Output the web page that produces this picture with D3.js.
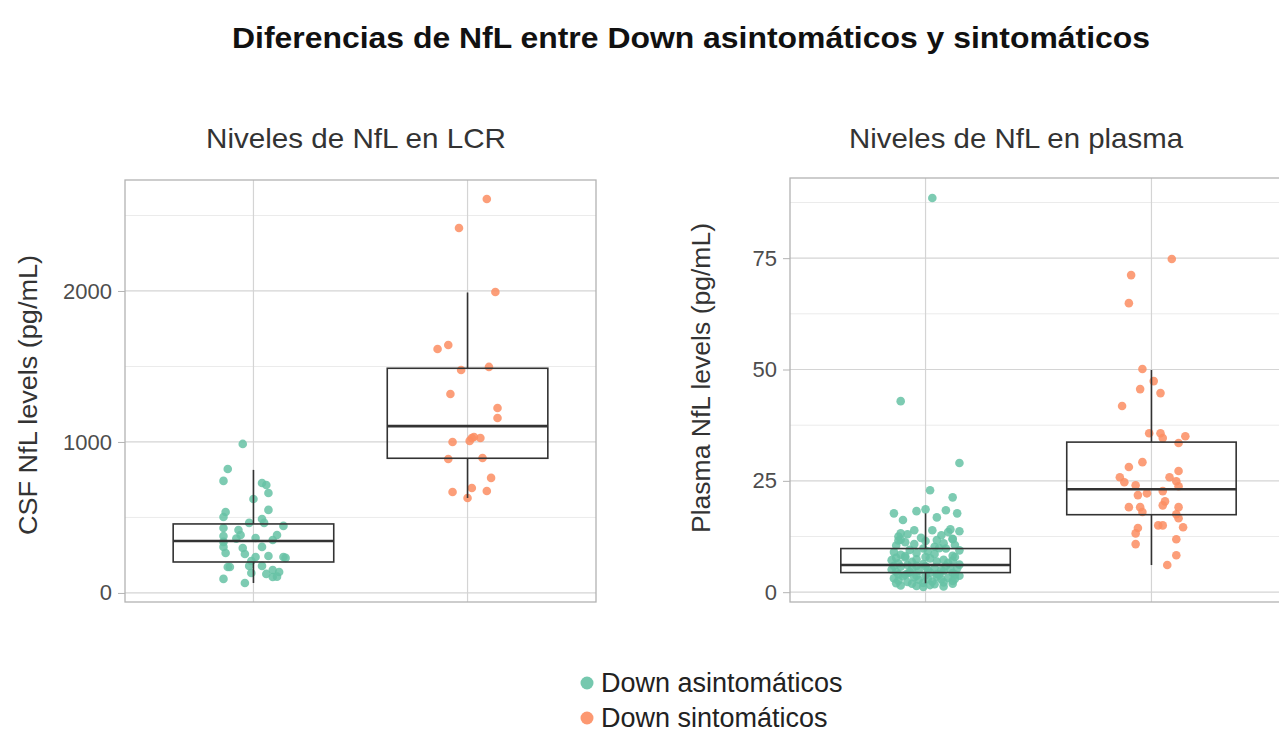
<!DOCTYPE html>
<html>
<head>
<meta charset="utf-8">
<script src="https://cdn.jsdelivr.net/npm/d3@7"></script>
<style>
  body { margin: 0; background: #fff; }
  svg text { font-family: "Liberation Sans", Arial, sans-serif; }
</style>
</head>
<body>
<div class="graph"></div>
<script>
// categories
const groups = ["Down asintomáticos", "Down sintomáticos"];
const groupColours = ["#66c2a5", "#fc8d62"];

// CSF panel: [jitter (category units), value]
const csfAsint = [
  [-0.05, 987], [-0.12, 821], [-0.14, 742], [0.04, 728], [0.06, 715], [0.07, 662], [0.00, 622],
  [0.07, 550], [-0.13, 536], [-0.14, 503], [0.04, 490], [-0.02, 464], [0.14, 444], [0.05, 464],
  [-0.14, 430], [-0.07, 417], [-0.06, 384], [0.11, 384], [-0.14, 377], [0.01, 364], [0.09, 351],
  [-0.14, 305], [-0.05, 298], [0.04, 305], [-0.13, 265], [-0.04, 258], [0.07, 245], [0.01, 238],
  [0.14, 238], [0.15, 232], [-0.01, 212], [-0.12, 172], [-0.02, 179], [0.04, 179], [-0.11, 172],
  [0.09, 152], [0.12, 139], [0.06, 126], [-0.01, 132], [0.09, 106], [-0.14, 93], [-0.04, 66],
  [-0.14, 338], [-0.08, 360], [0.11, 108]
];
const csfSint = [
  [0.09, 2609], [-0.04, 2417], [0.13, 1993], [-0.14, 1616], [-0.09, 1642], [-0.03, 1477],
  [0.10, 1497], [-0.08, 1318], [0.14, 1225], [0.14, 1159], [-0.07, 1000], [0.02, 1026],
  [0.03, 1033], [0.06, 1026], [0.01, 1007], [-0.09, 887], [0.07, 894], [0.11, 762],
  [0.02, 695], [-0.07, 669], [0.09, 675], [0.00, 629]
];

// plasma panel: [jitter (category units), value]
const plasmaAsint = [
  [0.03, 88.5], [-0.11, 42.9], [0.15, 29.0], [0.02, 22.9], [0.12, 21.3], [-0.14, 17.7], [-0.04, 18.2],
  [0.00, 18.6], [0.09, 18.4], [0.14, 17.7], [-0.10, 16.2], [0.05, 16.8], [-0.05, 13.9], [0.11, 14.1],
  [0.15, 13.7], [0.03, 13.9], [-0.11, 13.2],
  [-0.12, 12.5], [-0.08, 13.0], [-0.02, 12.2], [0.07, 12.8], [0.12, 12.0], [0.10, 13.5], [-0.11, 11.8],
  [-0.13, 10.5], [-0.09, 11.2], [-0.05, 10.8], [0.00, 11.5], [0.04, 10.2], [0.08, 11.0], [0.13, 10.6],
  [-0.12, 11.6], [0.12, 11.9], [0.05, 11.7],
  [-0.14, 9.0], [-0.11, 8.4], [-0.07, 9.5], [-0.04, 8.8], [0.01, 9.2], [0.04, 8.6], [0.09, 9.8],
  [0.12, 8.2], [0.15, 9.4], [-0.01, 9.8], [0.06, 9.9], [-0.09, 8.1],
  [-0.15, 7.2], [-0.12, 6.5], [-0.09, 7.8], [-0.06, 6.8], [-0.04, 7.4], [-0.01, 6.3], [0.02, 7.6],
  [0.05, 6.9], [0.08, 7.3], [0.10, 6.6], [0.13, 7.9], [0.15, 6.2], [-0.13, 7.7], [-0.08, 6.1],
  [0.00, 7.9], [0.12, 7.1],
  [-0.15, 5.1], [-0.13, 4.6], [-0.11, 5.7], [-0.08, 4.2], [-0.06, 5.3], [-0.03, 4.8], [0.00, 5.8],
  [0.02, 4.4], [0.04, 5.5], [0.07, 4.9], [0.09, 5.9], [0.12, 4.3], [0.14, 5.4], [-0.14, 5.9],
  [-0.07, 4.5], [0.01, 5.0], [0.05, 4.1], [0.11, 5.2], [-0.04, 5.9], [0.08, 4.7], [-0.12, 4.0],
  [0.13, 4.0],
  [-0.14, 3.1], [-0.12, 2.6], [-0.10, 3.6], [-0.08, 2.3], [-0.05, 3.3], [-0.03, 2.8], [0.00, 3.8],
  [0.03, 2.4], [0.05, 3.5], [0.07, 2.9], [0.10, 3.2], [0.12, 2.5], [0.15, 3.7], [-0.13, 2.0],
  [-0.06, 1.9], [-0.01, 2.1], [0.04, 1.8], [0.08, 2.2], [0.12, 1.9], [-0.09, 3.9], [0.06, 3.9],
  [0.01, 3.0], [-0.04, 3.7], [0.13, 3.0],
  [-0.11, 1.5], [-0.04, 1.4], [0.02, 1.6], [0.08, 1.3], [-0.01, 1.2]
];
const plasmaSint = [
  [0.09, 74.8], [-0.09, 71.2], [-0.10, 64.9], [-0.04, 50.1], [0.01, 47.4], [-0.05, 45.6], [0.04, 44.7],
  [-0.13, 41.8], [-0.01, 35.7], [0.04, 35.7], [0.05, 34.6], [0.15, 35.0], [0.12, 33.5], [-0.10, 28.1],
  [-0.04, 29.2], [0.12, 27.2], [-0.14, 25.8], [-0.12, 24.7], [0.08, 25.8], [0.11, 24.9], [-0.07, 24.0],
  [0.12, 23.8], [-0.02, 22.2], [-0.06, 21.8], [0.05, 22.7], [0.06, 20.4], [0.05, 19.5], [-0.10, 19.1],
  [-0.05, 19.1], [-0.04, 18.0], [0.12, 19.1], [0.11, 17.5], [0.12, 16.6], [0.03, 15.0], [0.05, 15.0],
  [0.14, 14.6], [-0.06, 14.4], [-0.07, 13.2], [0.11, 11.9], [-0.07, 10.8], [0.11, 8.3], [0.07, 6.1]
];

// box stats: [lower whisker, q1, median, q3, upper whisker]
const csfBoxes = [[66, 205, 344, 457, 815], [629, 892, 1105, 1488, 1990]];
const plasmaBoxes = [[2.0, 4.4, 6.1, 9.8, 17.7], [6.1, 17.4, 23.1, 33.7, 49.9]];

// tick labels
const csfTicks = [0, 1000, 2000];
const csfMinor = [500, 1500, 2500];
const plasmaTicks = [0, 25, 50, 75];
const plasmaMinor = [12.5, 37.5, 62.5, 87.5];

const svg = d3.select(".graph")
  .append("svg")
  .attr("width", 1279)
  .attr("height", 733);

// title
svg.append("text")
  .attr("x", 691).attr("y", 48)
  .attr("text-anchor", "middle")
  .attr("font-size", 29)
  .attr("font-weight", "bold")
  .attr("fill", "#111")
  .attr("textLength", 918)
  .attr("lengthAdjust", "spacingAndGlyphs")
  .text("Diferencias de NfL entre Down asintomáticos y sintomáticos");

function drawPanel(cfg) {
  const x = d3.scaleBand()
    .domain(groups)
    .range([cfg.left, cfg.right])
    .paddingInner(0)
    .paddingOuter(0.1);
  const y = d3.scaleLinear()
    .domain(cfg.yDomain)
    .range([cfg.bottom, cfg.top]);
  const step = x.step();
  const cx = g => x(g) + x.bandwidth() / 2;

  const g = svg.append("g");

  // minor grid
  g.selectAll(".minor")
    .data(cfg.minor)
    .enter().append("line")
    .attr("x1", cfg.left).attr("x2", cfg.right)
    .attr("y1", d => y(d)).attr("y2", d => y(d))
    .attr("stroke", "#ebebeb").attr("stroke-width", 1);

  // major grid
  g.selectAll(".major")
    .data(cfg.ticks)
    .enter().append("line")
    .attr("x1", cfg.left).attr("x2", cfg.right)
    .attr("y1", d => y(d)).attr("y2", d => y(d))
    .attr("stroke", "#d4d4d4").attr("stroke-width", 1.2);

  g.selectAll(".vgrid")
    .data(groups)
    .enter().append("line")
    .attr("x1", d => cx(d)).attr("x2", d => cx(d))
    .attr("y1", cfg.top).attr("y2", cfg.bottom)
    .attr("stroke", "#d4d4d4").attr("stroke-width", 1.2);

  // panel border
  g.append("rect")
    .attr("x", cfg.left).attr("y", cfg.top)
    .attr("width", cfg.right - cfg.left).attr("height", cfg.bottom - cfg.top)
    .attr("fill", "none").attr("stroke", "#b3b3b3").attr("stroke-width", 1.3);

  // y axis
  const axis = g.append("g")
    .attr("transform", "translate(" + cfg.left + ",0)")
    .call(d3.axisLeft(y).tickValues(cfg.ticks).tickFormat(d3.format("d")).tickSize(7).tickPadding(6));
  axis.select(".domain").remove();
  axis.selectAll(".tick line").attr("stroke", "#b3b3b3");
  axis.selectAll(".tick text")
    .attr("font-size", 22)
    .attr("fill", "#4d4d4d")
    .style("font-family", "'Liberation Sans', Arial, sans-serif");

  // jittered points
  groups.forEach((grp, i) => {
    g.selectAll(".pt" + i)
      .data(cfg.points[i])
      .enter().append("circle")
      .attr("cx", d => cx(grp) + d[0] * step)
      .attr("cy", d => y(d[1]))
      .attr("r", 4.3)
      .attr("fill", groupColours[i])
      .attr("fill-opacity", 0.85);
  });

  // boxplots
  groups.forEach((grp, i) => {
    const b = cfg.boxes[i];
    const bw = step * 0.75;
    const bx = cx(grp) - bw / 2;
    g.append("line")
      .attr("x1", cx(grp)).attr("x2", cx(grp))
      .attr("y1", y(b[0])).attr("y2", y(b[1]))
      .attr("stroke", "#333").attr("stroke-width", 1.6);
    g.append("line")
      .attr("x1", cx(grp)).attr("x2", cx(grp))
      .attr("y1", y(b[3])).attr("y2", y(b[4]))
      .attr("stroke", "#333").attr("stroke-width", 1.6);
    g.append("rect")
      .attr("x", bx).attr("y", y(b[3]))
      .attr("width", bw).attr("height", y(b[1]) - y(b[3]))
      .attr("fill", "none").attr("stroke", "#333").attr("stroke-width", 1.6);
    g.append("line")
      .attr("x1", bx).attr("x2", bx + bw)
      .attr("y1", y(b[2])).attr("y2", y(b[2]))
      .attr("stroke", "#333").attr("stroke-width", 2.6);
  });

  // panel subtitle
  svg.append("text")
    .attr("x", cfg.subX).attr("y", 148)
    .attr("text-anchor", "middle")
    .attr("font-size", 28)
    .attr("fill", "#333")
    .attr("textLength", cfg.subLen)
    .attr("lengthAdjust", "spacingAndGlyphs")
    .text(cfg.subtitle);

  // y axis title
  svg.append("text")
    .attr("transform", "translate(" + cfg.yTitleX + "," + cfg.yTitleY + ") rotate(-90)")
    .attr("text-anchor", "middle")
    .attr("font-size", 25)
    .attr("fill", "#333")
    .attr("textLength", cfg.yTitleLen)
    .attr("lengthAdjust", "spacingAndGlyphs")
    .text(cfg.yTitle);
}

drawPanel({
  left: 125, right: 596, top: 180, bottom: 602,
  yDomain: [-60, 2735],
  ticks: csfTicks, minor: csfMinor,
  points: [csfAsint, csfSint],
  boxes: csfBoxes,
  subtitle: "Niveles de NfL en LCR", subX: 356, subLen: 300,
  yTitle: "CSF NfL levels (pg/mL)", yTitleX: 37, yTitleY: 395, yTitleLen: 280
});

drawPanel({
  left: 790, right: 1287, top: 178, bottom: 602,
  yDomain: [-2.2, 93],
  ticks: plasmaTicks, minor: plasmaMinor,
  points: [plasmaAsint, plasmaSint],
  boxes: plasmaBoxes,
  subtitle: "Niveles de NfL en plasma", subX: 1016, subLen: 334,
  yTitle: "Plasma NfL levels (pg/mL)", yTitleX: 710, yTitleY: 378, yTitleLen: 310
});

// legend
const legend = svg.append("g");
groups.forEach((grp, i) => {
  legend.append("circle")
    .attr("cx", 587).attr("cy", 683 + i * 35)
    .attr("r", 6.5)
    .attr("fill", groupColours[i])
    .attr("fill-opacity", 0.9);
  legend.append("text")
    .attr("x", 601).attr("y", 692 + i * 35)
    .attr("font-size", 27)
    .attr("fill", "#222")
    .text(grp);
});
</script>
</body>
</html>
